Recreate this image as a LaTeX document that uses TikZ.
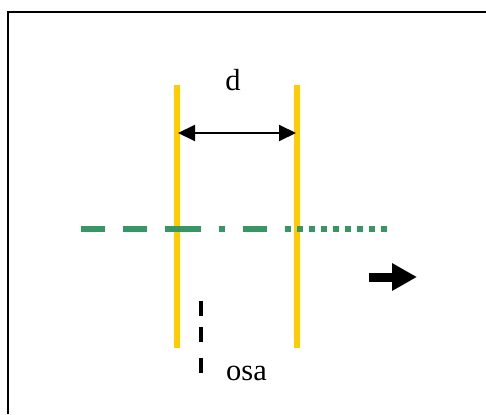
\documentclass[tikz,border=0pt]{standalone}
\usepackage{fontspec}
\setmainfont{Liberation Serif}
\usetikzlibrary{arrows.meta}
\definecolor{plate}{RGB}{255,204,0}
\definecolor{axisgreen}{RGB}{56,150,100}
\tikzset{
  platestyle/.style={draw=plate,line width=6pt},
  greenseg/.style={draw=axisgreen,line width=6pt},
  lbl/.style={font=\fontsize{30.5}{33}\selectfont,inner sep=0pt,anchor=base},
}
\begin{document}
\begin{tikzpicture}[x=1pt,y=-1pt]
\useasboundingbox (0,0) rectangle (486,414);
% frame (only top and left visible)
\draw[line width=2.2pt] (8,414) -- (8,12) -- (486,12);
% plates
\coordinate (p1t) at (177,85); \coordinate (p1b) at (177,348);
\coordinate (p2t) at (297,85); \coordinate (p2b) at (297,348);
\draw[platestyle] (p1t) -- (p1b);
\draw[platestyle] (p2t) -- (p2b);
% green axis
\foreach \a/\b in {81/105,123/147,165/201,219/225,243/267,285/291,297/303,309/315,321/327,333/339,345/351,357/363,369/375,381/387}
  \draw[greenseg] (\a,229) -- (\b,229);
% distance d
\coordinate (dl) at (178,133); \coordinate (dr) at (296,133);
\draw[line width=2pt,{Triangle[length=17pt,width=16pt]}-{Triangle[length=17pt,width=16pt]}] (dl) -- (dr);
\node[lbl] (d) at (233,90.5) {d};
% osa
\foreach \a/\b in {301/316,327/342,358/373}
  \draw[line width=4pt] (201,\a) -- (201,\b);
\node[lbl] (osa) at (246.5,380) {osa};
% big arrow
\coordinate (as) at (369,277); \coordinate (ae) at (417,277);
\draw[line width=9pt,-{Triangle[length=25pt,width=26pt]}] (as) -- (ae);
\end{tikzpicture}
\end{document}
